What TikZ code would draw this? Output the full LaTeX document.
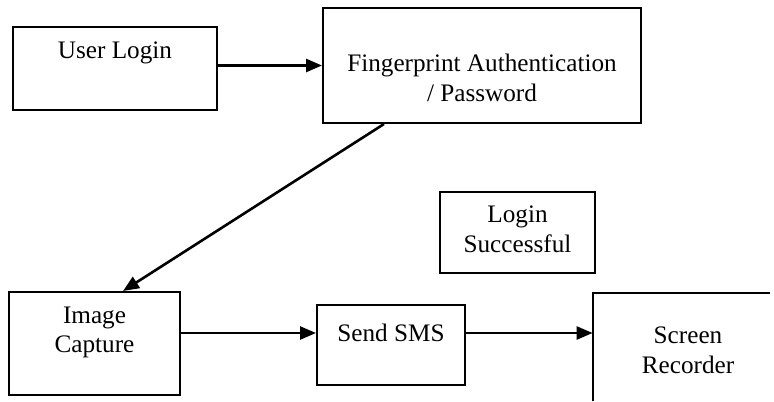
\documentclass[tikz,border=0pt]{standalone}
\usepackage{fontspec}
\setmainfont{Liberation Serif}
\usetikzlibrary{arrows.meta}
\begin{document}
\begin{tikzpicture}[x=0.5pt,y=-0.5pt,
  box/.style={draw=black,line width=1pt,rectangle,inner sep=0pt},
  txt/.style={font=\fontsize{12.6}{14.8}\selectfont,align=center,inner sep=0pt},
  arr/.style={line width=1.3pt,-{Triangle[length=8pt,width=6.5pt]}}]
\useasboundingbox (0,0) rectangle (774,401);
\node[box,minimum width=102pt,minimum height=41.5pt,
  label={[txt,yshift=7.75pt]center:User Login}] (ul) at (115,68.5) {};
\node[box,minimum width=159pt,minimum height=57.5pt,
  label={[txt,yshift=-6.25pt]center:Fingerprint Authentication\\/ Password}] (fp) at (482,65.5) {};
\node[box,minimum width=77.5pt,minimum height=40.5pt,
  label={[txt,yshift=1.5pt]center:Login\\Successful}] (ls) at (517.5,232.5) {};
\node[box,minimum width=85.5pt,minimum height=51.5pt,
  label={[txt,yshift=5.5pt]center:Image\\Capture}] (ic) at (94.5,343.5) {};
\node[box,minimum width=74pt,minimum height=40pt,
  label={[txt,yshift=6pt]center:Send SMS}] (ss) at (391,345) {};
\node[rectangle,inner sep=0pt,minimum width=90.5pt,minimum height=54pt,
  label={[txt,xshift=2.25pt,yshift=-1.5pt]center:Screen\\Recorder}] (sr) at (683.5,347) {};
\draw[line width=1pt] (sr.south west) -- (sr.north west) -- ([xshift=-2pt]sr.north east);
\draw[arr] (ul.east |- fp.west) -- (fp.west);
\draw[arr] ([xshift=31pt]fp.south west) -- ([xshift=14.25pt]ic.north);
\coordinate (sst) at ([yshift=6pt]ss.west);
\draw[arr] (ic.east |- sst) -- (sst);
\draw[arr] ([yshift=6pt]ss.east) -- ([yshift=6pt]ss.east -| sr.west);
\end{tikzpicture}
\end{document}
